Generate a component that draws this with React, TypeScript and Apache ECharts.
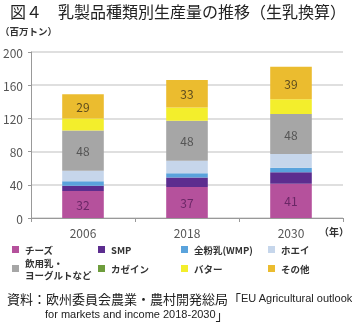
import React, { useEffect, useRef } from "react";
import * as echarts from "echarts";

const years = ["2006", "2018", "2030"];
const seriesNames = ["チーズ", "SMP", "全粉乳(WMP)", "ホエイ", "飲用乳・ヨーグルトなど", "カゼイン", "バター", "その他"];
const cheese = [32.4, 37.4, 41.2];
const smp = [6.6, 11.5, 14.0];
const wmp = [5.4, 4.9, 5.3];
const whey = [12.5, 15.1, 16.5];
const drinking = [48.4, 48.4, 48.4];
const casein = [0, 0, 0];
const butter = [14.5, 15.7, 17.8];
const other = [29.3, 33.3, 38.9];
const yTicks = [0, 40, 80, 120, 160, 200];

const colors = ["#b5519c", "#5c2d8f", "#5aa3dc", "#c6d6eb", "#a6a6a6", "#6e9d3c", "#f3ee2c", "#ebbc2f"];
const labelColors: (string | null)[] = ["#6a2766", null, null, null, "#555555", null, null, "#5e4c1e"];
const FONT = "Noto Sans CJK JP";
const LATIN = "Liberation Sans";

export default function App() {
  const ref = useRef<HTMLDivElement>(null);
  useEffect(() => {
    const chart = echarts.init(ref.current!, null, { renderer: "svg" });
    const data = [cheese, smp, wmp, whey, drinking, casein, butter, other];
    const series = seriesNames.map((name, i) => ({
      name,
      type: "bar",
      stack: "total",
      barWidth: "40%",
      data: data[i],
      itemStyle: { color: colors[i] },
      label: labelColors[i]
        ? {
            show: true,
            position: "inside",
            color: labelColors[i],
            fontFamily: FONT,
            fontSize: 12,
            formatter: (p: any) => String(Math.round(p.value)),
          }
        : { show: false },
    }));

    const legendPos = [
      { left: 12, top: 243.5 },
      { left: 98, top: 243.5 },
      { left: 181, top: 243.5 },
      { left: 268, top: 243.5 },
      { left: 12, top: 256.5 },
      { left: 98, top: 262.5 },
      { left: 181, top: 262.5 },
      { left: 268, top: 262.5 },
    ];
    const legends = seriesNames.map((name, i) => ({
      data: [name],
      left: legendPos[i].left,
      top: legendPos[i].top,
      padding: 0,
      itemWidth: 7,
      itemHeight: 7,
      itemGap: 0,
      icon: "rect",
      selectedMode: false,
      formatter: (n: string) => (n === "飲用乳・ヨーグルトなど" ? "飲用乳・\nヨーグルトなど" : n),
      textStyle: { fontFamily: FONT, fontSize: 9.5, fontWeight: "bold", color: "#333", lineHeight: 12, padding: [0, 0, 0, 1] },
    }));

    chart.setOption({
      animation: false,
      textStyle: { fontFamily: FONT },
      grid: { left: 31, right: 9, top: 52, bottom: 105 },
      legend: legends,
      xAxis: {
        type: "category",
        data: years,
        axisLine: { lineStyle: { color: "#999", width: 1 } },
        axisTick: { show: true, length: 4, lineStyle: { color: "#999" } },
        axisLabel: { color: "#555", fontSize: 12, margin: 8, fontFamily: FONT },
      },
      yAxis: {
        type: "value",
        min: 0,
        max: 200,
        interval: 40,
        axisLine: { show: true, lineStyle: { color: "#999", width: 1 } },
        axisTick: { show: true, length: 3, lineStyle: { color: "#999" } },
        axisLabel: {
          color: "#555",
          fontSize: 12,
          margin: 8,
          fontFamily: FONT,
          formatter: (v: number) => (yTicks.includes(v) ? String(v) : ""),
        },
        splitLine: { lineStyle: { color: "#d4d4d4", width: 1.5 } },
      },
      series,
      graphic: [
        {
          type: "text",
          left: 10,
          top: 3,
          style: { text: "図４　乳製品種類別生産量の推移（生乳換算）", fontFamily: FONT, fontSize: 16, fill: "#222" },
        },
        {
          type: "text",
          left: 0,
          top: 26,
          style: { text: "（百万トン）", fontFamily: FONT, fontSize: 9.5, fontWeight: "bold", fill: "#333" },
        },
        {
          type: "text",
          left: 319,
          top: 226,
          style: { text: "（年）", fontFamily: FONT, fontSize: 10, fontWeight: "bold", fill: "#333" },
        },
        {
          type: "text",
          left: 7,
          top: 291.5,
          style: {
            text: "{a|資料：欧州委員会農業・農村開発総局「}{b|EU Agricultural outlook}",
            rich: {
              a: { fontFamily: FONT, fontSize: 13, fill: "#222", lineHeight: 14 },
              b: { fontFamily: LATIN, fontSize: 11, fill: "#222", lineHeight: 14 },
            },
          },
        },
        {
          type: "text",
          left: 45,
          top: 307.5,
          style: {
            text: "{b|for markets and income 2018-2030}{a|」}",
            rich: {
              a: { fontFamily: FONT, fontSize: 13, fill: "#222", lineHeight: 14 },
              b: { fontFamily: LATIN, fontSize: 11, fill: "#222", lineHeight: 14 },
            },
          },
        },
      ],
    });
    return () => chart.dispose();
  }, []);
  return <div ref={ref} style={{ position: "fixed", left: 0, top: 0, width: 352, height: 323 }} />;
}
